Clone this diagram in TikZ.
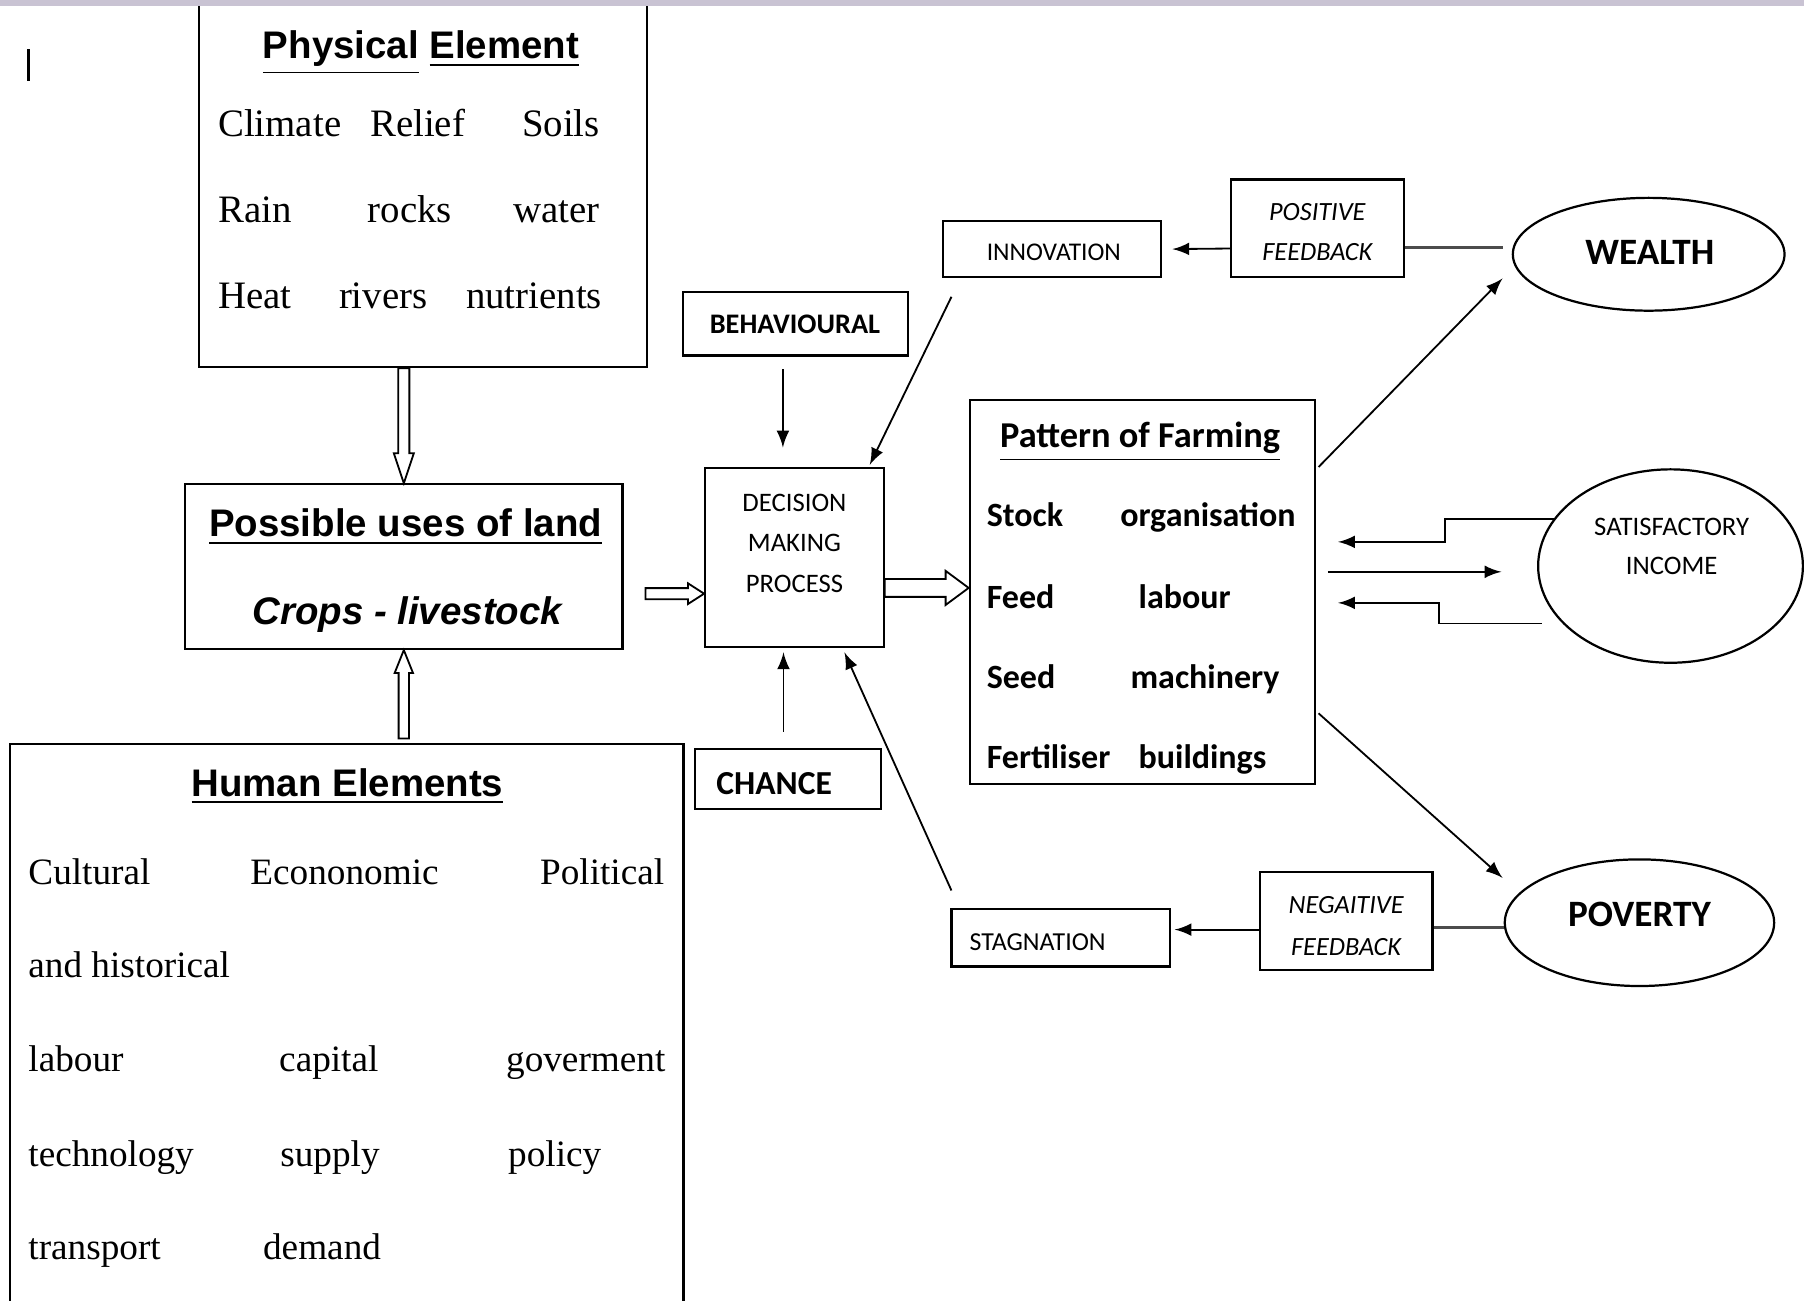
\documentclass[tikz,border=0pt]{standalone}
\usepackage{fontspec}
\setmainfont{Liberation Serif}
\newfontfamily\arialfont{Liberation Sans}
\newfontfamily\calfont{Carlito}
\usepackage{xcolor}
\usepackage{tikz}
\usetikzlibrary{arrows}
\usetikzlibrary{calc}
\usetikzlibrary{shapes.geometric}
\definecolor{topbar}{RGB}{201,195,211}

% block arrow: from, to, half shaft, half head, head length
\newcommand{\hollowarrow}[5]{%
  \coordinate (hb) at ($(#2)!#5!(#1)$);
  \draw[line width=0.45pt, fill=white] ($(#1)!#3!90:(#2)$) -- ($(hb)!#3!90:(#2)$) -- ($(hb)!#4!90:(#2)$) -- (#2)
    -- ($(hb)!#4!-90:(#2)$) -- ($(hb)!#3!-90:(#2)$) -- ($(#1)!#3!-90:(#2)$) -- cycle;
}

\begin{document}
\begin{tikzpicture}[x=0.01cm, y=-0.01cm,
  box/.style={draw, line width=0.55pt, inner sep=0pt},
  sanshead/.style={font=\arialfont\bfseries\fontsize{9.5}{11}\selectfont, anchor=base, inner sep=0pt},
  serifrow/.style={font=\fontsize{9.6}{11}\selectfont, anchor=base west, inner sep=0pt},
  humanrow/.style={font=\fontsize{9.2}{11}\selectfont, anchor=base west, inner sep=0pt},
  farmrow/.style={font=\calfont\bfseries\fontsize{8.4}{10}\selectfont, anchor=base west, inner sep=0pt},
  caps/.style={align=center, inner sep=0pt},
  arr/.style={line width=0.45pt, -latex},
  link/.style={line width=0.7pt, black!70}]

\useasboundingbox (0,0) rectangle (1568,1130);
\clip (0,0) rectangle (1568,1130);

% boxes
\node[box, minimum width=3.89cm, minimum height=3.29cm] (phys) at (367.5,154.5) {};
\node[box, minimum width=3.80cm, minimum height=1.43cm] (land) at (351,492.5) {};
\node[box, minimum width=5.85cm, minimum height=5.03cm] (human) at (301.5,898.5) {};
\node[box, minimum width=1.55cm, minimum height=1.55cm] (dec) at (690.5,484.5) {};
\node[box, minimum width=1.95cm, minimum height=0.55cm] (beh) at (691.5,281.5) {};
\node[box, minimum width=1.62cm, minimum height=0.52cm] (chance) at (685,677) {};
\node[box, minimum width=1.89cm, minimum height=0.49cm] (inno) at (914.5,216.5) {};
\node[box, minimum width=1.50cm, minimum height=0.85cm] (pos) at (1145,198.5) {};
\node[box, minimum width=3.00cm, minimum height=3.33cm] (pat) at (993,514.5) {};
\node[box, minimum width=1.90cm, minimum height=0.50cm] (stag) at (922,815) {};
\node[box, minimum width=1.50cm, minimum height=0.85cm] (neg) at (1170,800.5) {};
\node[box, ellipse, minimum width=2.36cm, minimum height=0.98cm] (wealth) at (1433,221) {};
\node[box, ellipse, minimum width=2.30cm, minimum height=1.68cm] (sat) at (1452,492) {};
\node[box, ellipse, minimum width=2.34cm, minimum height=1.10cm] (pov) at (1425,802) {};

\fill[topbar] (0,0) rectangle (1568,5);
\draw[line width=0.7pt] (25,43) -- (25,70);

% physical elements
\node[sanshead] (physhead) at (366,51) {\underline{Physical} \underline{Element}};
\node[serifrow] (climate) at (189,119) {Climate};
\node[serifrow] (relief) at (321,119) {Relief};
\node[serifrow, anchor=base east] (soils) at (522,119) {Soils};
\node[serifrow] (rain) at (189,193) {Rain};
\node[serifrow] (rocks) at (319,193) {rocks};
\node[serifrow, anchor=base east] (water) at (522,193) {water};
\node[serifrow] (heat) at (189,268) {Heat};
\node[serifrow] (rivers) at (294,268) {rivers};
\node[serifrow, anchor=base east] (nutrients) at (524,268) {nutrients};

% land use
\node[sanshead] (landhead) at (352.5,466.5) {\underline{Possible uses of land}};
\node[sanshead, font=\arialfont\bfseries\itshape\fontsize{9.5}{11}\selectfont] (crops) at (354,543) {Crops - livestock};

% human elements
\node[sanshead] (humanhead) at (302,692) {\underline{Human Elements}};
\node[humanrow] (cultural) at (24,769) {Cultural};
\node[humanrow] (economic) at (217,769) {Econonomic};
\node[humanrow, anchor=base east] (political) at (578,769) {Political};
\node[humanrow] (historical) at (24,850) {and historical};
\node[humanrow] (labour) at (24,931) {labour};
\node[humanrow] (capital) at (242,931) {capital};
\node[humanrow, anchor=base east] (government) at (579,931) {goverment};
\node[humanrow] (technology) at (24,1014) {technology};
\node[humanrow] (supply) at (243,1014) {supply};
\node[humanrow] (policy) at (441,1014) {policy};
\node[humanrow] (transport) at (24,1095) {transport};
\node[humanrow] (demand) at (228,1095) {demand};

% pattern of farming
\node[anchor=base, inner sep=0pt, font=\calfont\bfseries\fontsize{9}{11}\selectfont] (pathead) at (991,389) {\underline{Pattern of Farming}};
\node[farmrow] (stock) at (857,458) {Stock};
\node[farmrow] (organisation) at (973,458) {organisation};
\node[farmrow] (feed) at (857,529) {Feed};
\node[farmrow] (flabour) at (989,529) {labour};
\node[farmrow] (seed) at (857,598) {Seed};
\node[farmrow] (machinery) at (982,598) {machinery};
\node[farmrow] (fertiliser) at (857,668) {Fertiliser};
\node[farmrow] (buildings) at (989,668) {buildings};

% small labels
\node[caps, font=\calfont\fontsize{6.6}{10}\selectfont] (dectext) at (690.5,472) {DECISION\\MAKING\\PROCESS};
\node[caps, font=\calfont\bfseries\fontsize{7}{10}\selectfont] (behtext) at (691,282) {BEHAVIOURAL};
\node[caps, anchor=west, font=\calfont\bfseries\fontsize{8.3}{10}\selectfont] (chancetext) at (622,681) {CHANCE};
\node[caps, font=\calfont\fontsize{6.3}{10}\selectfont] (innotext) at (916,219) {INNOVATION};
\node[caps, font=\calfont\itshape\fontsize{6.5}{10}\selectfont] (postext) at (1145,201.5) {POSITIVE\\FEEDBACK};
\node[caps, anchor=west, font=\calfont\fontsize{6.4}{10}\selectfont] (stagtext) at (842,819) {STAGNATION};
\node[caps, font=\calfont\itshape\fontsize{6.5}{10.2}\selectfont] (negtext) at (1170,805) {NEGAITIVE\\FEEDBACK};
\node[caps, font=\calfont\bfseries\fontsize{9.2}{11}\selectfont] (wealthtext) at (1434,219) {WEALTH};
\node[caps, font=\calfont\fontsize{6.6}{9.7}\selectfont] (sattext) at (1453,475) {SATISFACTORY\\INCOME};
\node[caps, font=\calfont\bfseries\fontsize{9.2}{11}\selectfont] (povtext) at (1425,795) {POVERTY};

% block arrows
\coordinate (physout) at (land.north |- phys.south);
\hollowarrow{physout}{land.north}{0.048cm}{0.087cm}{0.26cm}
\coordinate (humanout) at ($(land.south |- human.north)+(0,-4)$);
\hollowarrow{humanout}{land.south}{0.045cm}{0.08cm}{0.2cm}
\coordinate (landin) at ($(dec.west)+(0,31.5)$);
\coordinate (landout) at ($(landin -| land.east)+(19,0)$);
\hollowarrow{landout}{landin}{0.048cm}{0.09cm}{0.14cm}
\coordinate (patin) at ($(pat.west)+(0,-3.5)$);
\coordinate (decout) at (patin -| dec.east);
\hollowarrow{decout}{patin}{0.078cm}{0.148cm}{0.2cm}

% arrows into decision making
\draw[arr] ($(beh.south)+(-11,11)$) -- ($(dec.north)+(-10,-17)$);
\draw[arr] ($(chance.north)+(-4,-14)$) -- ($(dec.south)+(-9.5,4)$);
\draw[arr] ($(inno.south west)+(8,16)$) -- ($(dec.north east)+(-13,-2)$);
\draw[arr] ($(stag.north west)+(1,-15)$) -- ($(dec.south east)+(-35,4)$);

% feedback
\draw[arr] ($(pos.west)+(0,17.5)$) -- ($(inno.east)+(9,0)$);
\draw[link] ($(wealth.west)+(-8,-6)$) -- ($(pos.east)+(0,16.5)$);
\draw[arr] ($(pat.north east)+(2,59)$) -- ($(wealth.west)+(-8,21)$);
\draw[arr] ($(pat.east)+(2,105.5)$) -- ($(pov.west)+(-1,-39)$);
\draw[link] ($(pov.west)+(0,4)$) -- ($(neg.east)+(0,5.5)$);
\draw[arr] ($(neg.west)+(0,7.5)$) -- ($(stag.east)+(3,-7)$);

% satisfactory income
\draw[arr] ($(sat.west)+(16,-41)$) -- ++(-96,0) |- ($(pat.east)+(19,-43.5)$);
\draw[arr] ($(pat.east)+(10,-17.5)$) -- ($(sat.west)+(-31,5)$);
\draw[arr] ($(sat.west)+(4,50)$) -- ++(-89,0) |- ($(pat.east)+(19,9.5)$);
\end{tikzpicture}
\end{document}
